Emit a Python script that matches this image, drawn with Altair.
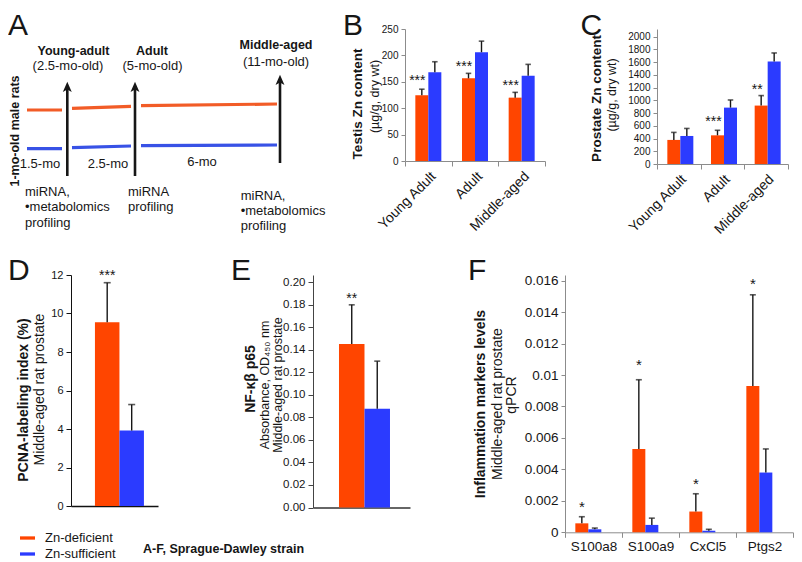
import altair as alt
import pandas as pd

FONT = "Liberation Sans"
ORANGE = "#FF4500"
BLUE = "#2B3BFF"
LINE_COLORS = ["#F25C27", "#3852E6"]
INK = "#161616"
GREY = "#8c8c8c"
ARROW = "M0,-1L0.85,0.95L0,0.5L-0.85,0.95Z"
LEG_SYMBOL = "M-1,-0.22L1,-0.22L1,0.22L-1,0.22Z"

groups = ["Zn-deficient", "Zn-sufficient"]

# ---------- Panel A: timeline schematic (diagram units) ----------
a_seg_group = ["Zn-deficient"] * 3 + ["Zn-sufficient"] * 3
a_seg_x1 = [19, 64, 133, 19, 64, 133]
a_seg_x2 = [54, 123, 269, 54, 123, 269]
a_seg_y1 = [119, 120.7, 123.3, 80.3, 81.3, 83.3]
a_seg_y2 = [119, 122.7, 125, 80.3, 83.0, 84.0]
a_arrow_x = [59.3, 127, 272]
a_arrow_base = [53, 53, 66]
a_arrow_tip = [147, 147, 154]
a_stage_name = ["Young-adult", "Adult", "Middle-aged"]
a_stage_x = [65.5, 144, 268]
a_stage_y = [178.3, 178, 184]
a_stage_age = ["(2.5-mo-old)", "(5-mo-old)", "(11-mo-old)"]
a_age_x = [60, 144.5, 268]
a_age_y = [163, 163, 167]
a_gap_text = ["1.5-mo", "2.5-mo", "6-mo"]
a_gap_x = [32, 100, 194]
a_gap_y = [65, 65, 67]
a_note_text = ["miRNA,", "\u2022metabolomics", "profiling", "miRNA", "profiling",
               "miRNA,", "\u2022metabolomics", "profiling"]
a_note_x = [17, 17, 17, 120, 120, 232.7, 232.7, 232.7]
a_note_y = [37, 22, 6, 37, 22, 33, 18, 3]
a_side_text = ["1-mo-old male rats"]
a_side_x = [7]
a_side_y = [98]

# ---------- Panel B: testis Zn ----------
ages = ["Young Adult", "Adult", "Middle-aged"]
testis_def = [124.7, 156.5, 120.0]
testis_def_err = [11.3, 9.5, 10.0]
testis_suf = [168.0, 206.0, 161.6]
testis_suf_err = [20.0, 21.0, 21.4]
testis_sig = ["***", "***", "***"]
testis_sig_y = [160, 185, 150]
testis_ticks = [0, 50, 100, 150, 200, 250]

# ---------- Panel C: prostate Zn ----------
prostate_def = [378, 450, 917]
prostate_def_err = [118, 79, 157]
prostate_suf = [440, 885, 1607]
prostate_suf_err = [118, 120, 136]
prostate_sig = ["", "***", "**"]
prostate_sig_y = [0, 718, 1225]
prostate_ticks = [0, 200, 400, 600, 800, 1000, 1200, 1400, 1600, 1800, 2000]

# ---------- Panel D: PCNA ----------
pcna_cat = ["Middle-aged"]
pcna_def = [9.55]
pcna_def_err = [2.05]
pcna_suf = [3.92]
pcna_suf_err = [1.35]
pcna_sig = ["***"]
pcna_sig_y = [12.15]
pcna_ticks = [0, 2, 4, 6, 8, 10, 12]

# ---------- Panel E: NF-kB ----------
nfkb_cat = ["Middle-aged"]
nfkb_def = [0.1453]
nfkb_def_err = [0.0347]
nfkb_suf = [0.0876]
nfkb_suf_err = [0.0424]
nfkb_sig = ["**"]
nfkb_sig_y = [0.189]
nfkb_ticks = [0, 0.02, 0.04, 0.06, 0.08, 0.10, 0.12, 0.14, 0.16, 0.18, 0.20]

# ---------- Panel F: inflammation markers ----------
genes = ["S100a8", "S100a9", "CxCl5", "Ptgs2"]
infl_def = [0.00057, 0.0053, 0.00132, 0.0093]
infl_def_err = [0.00042, 0.0044, 0.00113, 0.0058]
infl_suf = [0.00019, 0.00047, 0.0001, 0.0038]
infl_suf_err = [0.00008, 0.00043, 0.00009, 0.0015]
infl_sig = ["*", "*", "*", "*"]
infl_sig_y = [0.00183, 0.01085, 0.0033, 0.0160]
infl_ticks = [0, 0.002, 0.004, 0.006, 0.008, 0.01, 0.012, 0.014, 0.016]


def ann(text, x, y, size, weight="normal", angle=0, align="center",
        baseline="middle", color=INK):
    return alt.Chart(pd.DataFrame({"t": [text]})).mark_text(
        font=FONT, fontSize=size, fontWeight=weight, angle=angle, align=align,
        baseline=baseline, color=color
    ).encode(text="t:N", x=alt.value(x), y=alt.value(y))


def make_df(cats, dv, de, sv, se):
    rows = []
    for i, c in enumerate(cats):
        rows.append(dict(cat=c, group=groups[0], value=dv[i], top=dv[i] + de[i]))
        rows.append(dict(cat=c, group=groups[1], value=sv[i], top=sv[i] + se[i]))
    return pd.DataFrame(rows)


def sig_df(cats, sig, sig_y):
    return pd.DataFrame({"cat": cats, "group": [groups[0]] * len(cats),
                         "sig": sig, "sig_y": sig_y})


def bar_panel(cats, dv, de, sv, se, sig, sig_y, width, height, ymax,
              y_axis, x_axis, cap, star_size, star_dx, grouped=True, po=0.8,
              align=0.5, legend=None, extras=()):
    df = make_df(cats, dv, de, sv, se)
    sdf = sig_df(cats, sig, sig_y)
    sdf = sdf[sdf["sig"] != ""]
    if grouped:
        pos = dict(
            x=alt.X("cat:N", sort=cats, title=None,
                    scale=alt.Scale(domain=cats, paddingInner=0, paddingOuter=0),
                    axis=x_axis),
            xOffset=alt.XOffset("group:N", sort=groups,
                                scale=alt.Scale(domain=groups, paddingInner=0,
                                                paddingOuter=po, align=align)))
    else:
        pos = dict(
            x=alt.X("group:N", sort=groups, title=None,
                    scale=alt.Scale(domain=groups, paddingInner=0, paddingOuter=po,
                                    align=align),
                    axis=x_axis))
    yscale = alt.Scale(domain=[0, ymax], nice=False, zero=True)
    bars = alt.Chart(df).mark_bar().encode(
        y=alt.Y("value:Q", scale=yscale, axis=y_axis, title=None),
        color=alt.Color("group:N", scale=alt.Scale(domain=groups, range=[ORANGE, BLUE]),
                        legend=legend),
        **pos)
    err = alt.Chart(df).mark_rule(color=INK, strokeWidth=1.4).encode(
        y=alt.Y("value:Q", scale=yscale, axis=y_axis, title=None), y2="top:Q", **pos)
    caps = alt.Chart(df).mark_tick(color=INK, thickness=1.6, size=cap).encode(
        y=alt.Y("top:Q", scale=yscale, axis=y_axis, title=None), **pos)
    stars = alt.Chart(sdf).mark_text(font=FONT, fontSize=star_size, color=INK,
                                     baseline="alphabetic", dx=star_dx,
                                     dy=0.57 * star_size).encode(
        y=alt.Y("sig_y:Q", scale=yscale, axis=y_axis, title=None), text="sig:N", **pos)
    return alt.layer(bars, err, caps, stars, *extras).properties(width=width, height=height)


def y_axis(ticks, fmt, size, color, tick_size=4, pad=3):
    return alt.Axis(values=ticks, format=fmt, title=None, grid=False, labelFont=FONT,
                    labelFontSize=size, labelColor=INK, tickColor=color, domainColor=color,
                    tickSize=tick_size, labelPadding=pad, labelFlush=False,
                    labelOverlap=False)


def x_axis_cat(angle, size, color, pad):
    return alt.Axis(title=None, labelAngle=angle, labelFont=FONT, labelFontSize=size,
                    labelColor=INK, tickBand="extent", tickSize=5, tickColor=color,
                    domainColor=color, labelPadding=pad, labelLimit=0)


def x_axis_plain(color, width):
    return alt.Axis(title=None, labels=False, ticks=False, domainColor=color,
                    domainWidth=width)


# ---------- build panel A ----------
ax = alt.Scale(domain=[63, 285], nice=False, zero=False)
ay = alt.Scale(domain=[0, 200], nice=False, zero=False)
seg_df = pd.DataFrame({"group": a_seg_group, "x1": a_seg_x1, "x2": a_seg_x2,
                       "y1": a_seg_y1, "y2": a_seg_y2})
arrow_df = pd.DataFrame({"x": a_arrow_x, "base": a_arrow_base, "tip": a_arrow_tip})
arrow_df["shaft_top"] = arrow_df["tip"] - 5
arrow_df["head"] = arrow_df["tip"] - 5

segs = alt.Chart(seg_df).mark_rule(strokeWidth=3.2).encode(
    x=alt.X("x1:Q", scale=ax, axis=None), x2="x2:Q",
    y=alt.Y("y1:Q", scale=ay, axis=None), y2="y2:Q",
    color=alt.Color("group:N", scale=alt.Scale(domain=groups, range=LINE_COLORS), legend=None))
shafts = alt.Chart(arrow_df).mark_rule(strokeWidth=2.6, color=INK).encode(
    x=alt.X("x:Q", scale=ax, axis=None), y=alt.Y("base:Q", scale=ay, axis=None),
    y2="shaft_top:Q")
heads = alt.Chart(arrow_df).mark_point(shape=ARROW, size=110, filled=True, color=INK,
                                       opacity=1).encode(
    x=alt.X("x:Q", scale=ax, axis=None), y=alt.Y("head:Q", scale=ay, axis=None))


def a_text(texts, xs, ys, size, weight="normal", align="center", angle=0):
    d = pd.DataFrame({"t": texts, "x": xs, "y": ys})
    return alt.Chart(d).mark_text(font=FONT, fontSize=size, fontWeight=weight,
                                  align=align, baseline="middle", angle=angle,
                                  color=INK).encode(
        x=alt.X("x:Q", scale=ax, axis=None), y=alt.Y("y:Q", scale=ay, axis=None),
        text="t:N")


LETTER_Y_TOP = 6
LETTER_Y_BOTTOM = 4.5

a_chart = alt.layer(
    segs, shafts, heads,
    a_text(a_stage_name, a_stage_x, a_stage_y, 12.5, "bold"),
    a_text(a_stage_age, a_age_x, a_age_y, 13),
    a_text(a_gap_text, a_gap_x, a_gap_y, 13),
    a_text(a_note_text, a_note_x, a_note_y, 13, align="left"),
    a_text(a_side_text, a_side_x, a_side_y, 12.5, "bold", angle=270),
    ann("A", -63, LETTER_Y_TOP, 30, align="left", baseline="alphabetic"),
).properties(width=222, height=200)

# ---------- panel B ----------
b_chart = bar_panel(
    ages, testis_def, testis_def_err, testis_suf, testis_suf_err, testis_sig, testis_sig_y,
    width=140, height=132, ymax=250, po=0.795,
    y_axis=y_axis(testis_ticks, "d", 10, GREY),
    x_axis=x_axis_cat(-45, 14, GREY, 3), cap=5.5, star_size=14, star_dx=-4.5,
    extras=[ann("B", -62, LETTER_Y_TOP, 30, align="left", baseline="alphabetic"),
            ann("Testis Zn content", -47, 75, 13.5, "bold", angle=270),
            ann("(\u00b5g/g, dry wt)", -30, 67.5, 12.5, angle=270)])

# ---------- panel C ----------
c_chart = bar_panel(
    ages, prostate_def, prostate_def_err, prostate_suf, prostate_suf_err, prostate_sig,
    prostate_sig_y, width=131, height=135, ymax=2119, po=0.747,
    y_axis=y_axis(prostate_ticks, "d", 10, GREY),
    x_axis=x_axis_cat(-45, 14, GREY, 3), cap=5.5, star_size=14, star_dx=-4,
    extras=[ann("C", -76.5, LETTER_Y_TOP, 30, align="left", baseline="alphabetic"),
            ann("Prostate Zn content", -60, 69.5, 13.5, "bold", angle=270),
            ann("(\u00b5g/g, dry wt)", -45, 66, 12.5, angle=270)])

# ---------- panel D ----------
legend_d = alt.Legend(orient="none", legendX=-51, legendY=255.5, title=None,
                      symbolType=LEG_SYMBOL, symbolSize=225, symbolStrokeWidth=0,
                      labelFont=FONT, labelFontSize=13, labelColor=INK, labelOffset=10,
                      rowPadding=1, labelLimit=0)
d_chart = bar_panel(
    pcna_cat, pcna_def, pcna_def_err, pcna_suf, pcna_suf_err, pcna_sig, pcna_sig_y,
    width=87, height=231, ymax=12, grouped=False, po=0.776, align=0.63,
    y_axis=y_axis(pcna_ticks, "d", 11, "#111", tick_size=5),
    x_axis=x_axis_plain("#111", 1.4), cap=7, star_size=14, star_dx=0, legend=legend_d,
    extras=[ann("D", -63, LETTER_Y_BOTTOM, 30, align="left", baseline="alphabetic"),
            ann("PCNA-labeling index (%)", -47, 125, 14, "bold", angle=270),
            ann("Middle-aged rat prostate", -31, 114.5, 14, angle=270),
            ann("A-F, Sprague-Dawley strain", 72, 273.5, 12.5, "bold", align="left")])

# ---------- panel E ----------
e_chart = bar_panel(
    nfkb_cat, nfkb_def, nfkb_def_err, nfkb_suf, nfkb_suf_err, nfkb_sig, nfkb_sig_y,
    width=97, height=232.5, ymax=0.2065, grouped=False, po=0.902, align=0.565,
    y_axis=y_axis(nfkb_ticks, ".2f", 11.5, "#444", tick_size=5),
    x_axis=x_axis_plain("#333", 1.4), cap=6, star_size=14, star_dx=0,
    extras=[ann("E", -82, LETTER_Y_BOTTOM, 30, align="left", baseline="alphabetic"),
            ann("NF-\u03ba\u03b2 p65", -62, 104, 14, "bold", angle=270),
            ann("Absorbance, OD\u2084\u2085\u2080 nm", -48.5, 110, 12.5, angle=270),
            ann("Middle-aged rat  prostate", -35.5, 110, 12.5, angle=270)])

# ---------- panel F ----------
f_chart = bar_panel(
    genes, infl_def, infl_def_err, infl_suf, infl_suf_err, infl_sig, infl_sig_y,
    width=228, height=257.3, ymax=0.01636, po=0.78,
    y_axis=y_axis(infl_ticks, "~g", 13.5, GREY, tick_size=4),
    x_axis=x_axis_cat(0, 13.5, GREY, 2), cap=6, star_size=15, star_dx=0,
    extras=[ann("F", -97, LETTER_Y_BOTTOM, 30, align="left", baseline="alphabetic"),
            ann("Inflammation markers levels", -84, 129, 14, "bold", angle=270),
            ann("Middle-aged rat prostate", -67, 129, 14, angle=270),
            ann("qPCR", -53, 120, 14, angle=270)])

row1 = alt.hconcat(a_chart, b_chart, c_chart, spacing=112, bounds="flush").resolve_scale(
    color="independent").resolve_legend(color="independent")
row2 = alt.hconcat(d_chart, e_chart, f_chart, spacing=155, bounds="flush").resolve_scale(
    color="independent").resolve_legend(color="independent")

chart = alt.vconcat(row1, row2, spacing=18).resolve_scale(
    color="independent").resolve_legend(color="independent").properties(
    padding={"left": 0, "top": 3, "right": 0, "bottom": 0},
    background="white").configure_view(stroke=None)

chart.save("out.html", embed_options={"renderer": "svg", "actions": False})
